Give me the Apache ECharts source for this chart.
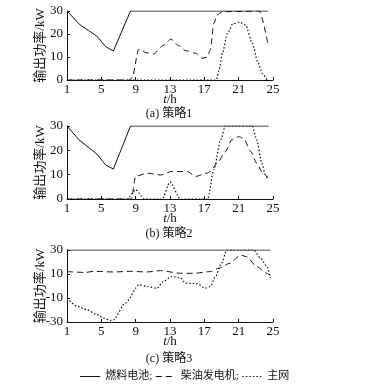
<!DOCTYPE html>
<html><head><meta charset="utf-8">
<script src="https://cdn.jsdelivr.net/npm/echarts@6/dist/echarts.min.js"></script>
<style>html,body{margin:0;padding:0;background:#fff}#c{width:369px;height:386px}</style>
</head><body><div id="c"></div>
<script>
// ---- tick labels / categories ----
var xTicks = [1, 5, 9, 13, 17, 21, 25];
var yTicksAB = [0, 10, 20, 30];
var yTicksC = [-30, -10, 10, 30];
var seriesNames = ['燃料电池', '柴油发电机', '主网'];
var panelTitles = ['(a) 策略1', '(b) 策略2', '(c) 策略3'];

// ---- Panel (a) 策略1 ----
var fcA_t = [1, 2.5, 3.5, 4.5, 5.5, 6.4, 8.4, 24.4];
var fcA_p = [30, 24, 21.5, 19, 14.5, 12.6, 30, 30];
var dgA_t = [1, 8.2, 8.6, 9.35, 10.3, 11.1, 12.2, 13.1, 14.0, 14.8, 16.0, 16.8, 17.3, 17.7, 18.1, 18.5, 19.1, 23.4, 24.4];
var dgA_p = [0, 0, 1, 13.3, 11.8, 11.3, 15, 17.7, 15, 12.8, 11.6, 9.4, 9.9, 13, 24.6, 28.3, 29.7, 30, 15.9];
var grA_t = [1, 18.4, 18.7, 19.1, 19.7, 20.3, 21.1, 21.8, 22.6, 23.2, 23.8, 24.3];
var grA_p = [0, 0, 4, 11.6, 20.3, 24.3, 25.2, 23.9, 15.9, 8, 2.6, 0];

// ---- Panel (b) 策略2 ----
var fcB_t = [1, 2.4, 4.5, 5.5, 6.4, 8.4, 24.5];
var fcB_p = [30, 24.3, 18.4, 14, 12.3, 30, 30];
var dgB_t = [1, 8.5, 9.0, 10.3, 11.9, 13.2, 15.0, 16.0, 17.3, 17.7, 18.5, 19.45, 20.2, 21.0, 21.6, 22.4, 23.1, 23.7, 24.4];
var dgB_p = [0, 0, 9.3, 10.6, 9.9, 11.3, 11.3, 9.3, 10.6, 11.3, 14.7, 19.5, 24.3, 25.6, 24.8, 19.5, 14.7, 11.3, 8.5];
var grB_t = [1, 8.0, 9.0, 10.0, 12.1, 13.0, 14.2, 17.4, 18.1, 18.9, 19.45, 22.6, 23.1, 23.7, 24.1, 24.4];
var grB_p = [0, 0, 3.8, 0, 0, 7, 0, 0, 12, 24.3, 30, 30, 24.3, 14.7, 10, 8];

// ---- Panel (c) 策略3 ----
var fcC_t = [1, 24.7];
var fcC_p = [30, 30];
var dgC_t = [1, 3.1, 4.1, 6.4, 8.4, 10.3, 11.9, 14.2, 15.8, 17.7, 18.7, 20.0, 21.2, 21.9, 23.1, 24.3, 24.6];
var dgC_p = [12, 11.3, 12.2, 11.7, 12.2, 11.7, 12.8, 10.6, 10.6, 12, 14.8, 19, 25.8, 24.5, 16.2, 10.6, 9];
var grC_t = [1, 2.2, 3.3, 4.5, 5.3, 6.05, 6.4, 7.8, 9.4, 10.3, 11.5, 12.2, 13.2, 14.2, 14.8, 16.2, 17.1, 17.7, 18.3, 18.9, 19.65, 22.75, 23.5, 24.3, 24.7];
var grC_p = [-10.1, -17, -19.8, -23.9, -26.7, -28.7, -28.2, -14.2, 1, -0.4, -1.8, 3.7, 7.9, 6.8, 2.4, 2, -1.8, -0.4, 7.9, 17.6, 30, 30, 23.8, 16.3, 6.7];

function pairs(t, p) { return t.map(function (x, i) { return [x, p[i]]; }); }

var FONT = "'Liberation Serif','Noto Sans CJK SC',serif";
var chart = echarts.init(document.getElementById('c'), null, {renderer: 'canvas'});

var grids = [
  {left: 67, width: 206, top: 11, height: 69},
  {left: 67, width: 206, top: 126, height: 73},
  {left: 67, width: 206, top: 250, height: 72}
];
var yRanges = [[0, 30, 10], [0, 30, 10], [-30, 30, 20]];

var xAxes = grids.map(function (g, i) {
  return {
    type: 'value', gridIndex: i, min: xTicks[0], max: xTicks[xTicks.length - 1], interval: 4,
    name: '{i|t}/h', nameLocation: 'middle', nameGap: 13, nameMoveOverlap: false,
    nameTextStyle: {fontFamily: FONT, fontSize: 13, color: '#111', rich: {i: {fontStyle: 'italic', fontFamily: FONT, fontSize: 13, color: '#111'}}},
    axisLine: {onZero: false, lineStyle: {color: '#111', width: 1}},
    axisTick: {inside: true, length: 3, lineStyle: {color: '#111'}},
    axisLabel: {fontFamily: FONT, fontSize: 13, color: '#111', margin: 3},
    splitLine: {show: false}
  };
});
var yAxes = grids.map(function (g, i) {
  return {
    type: 'value', gridIndex: i, min: yRanges[i][0], max: yRanges[i][1], interval: yRanges[i][2],
    name: '输出功率/kW', nameLocation: 'middle', nameGap: 20, nameRotate: 90, nameMoveOverlap: false,
    nameTextStyle: {fontFamily: FONT, fontSize: 13, color: '#111'},
    axisLine: {show: true, onZero: false, lineStyle: {color: '#111', width: 1}},
    axisTick: {show: true, inside: true, length: 3, lineStyle: {color: '#111'}},
    axisLabel: {fontFamily: FONT, fontSize: 13, color: '#111', margin: 4},
    splitLine: {show: false}
  };
});

var styles = [
  {type: 'solid', width: 1, color: '#111'},
  {type: [6, 4], width: 1, color: '#111'},
  {type: [1.5, 2], width: 1.2, color: '#111'}
];
var panelData = [
  [[fcA_t, fcA_p], [dgA_t, dgA_p], [grA_t, grA_p]],
  [[fcB_t, fcB_p], [dgB_t, dgB_p], [grB_t, grB_p]],
  [[fcC_t, fcC_p], [dgC_t, dgC_p], [grC_t, grC_p]]
];
var series = [];
panelData.forEach(function (pd, gi) {
  pd.forEach(function (s, si) {
    series.push({
      type: 'line', name: seriesNames[si], xAxisIndex: gi, yAxisIndex: gi,
      data: pairs(s[0], s[1]), symbol: 'none', showSymbol: false,
      smooth: si === 0 ? false : 0.25, smoothMonotone: 'x',
      lineStyle: styles[si], itemStyle: {color: '#111'},
      animation: false, silent: true
    });
  });
});

var titleY = [114, 234, 359];
var graphics = panelTitles.map(function (t, i) {
  return {type: 'text', x: 169, y: titleY[i],
    style: {text: t, font: '12px ' + FONT, fill: '#111', align: 'center', verticalAlign: 'middle'}};
});

chart.setOption({
  animation: false,
  grid: grids,
  xAxis: xAxes,
  yAxis: yAxes,
  series: series,
  legend: {
    data: seriesNames, left: 'center', top: 366, itemWidth: 20, itemHeight: 8, itemGap: 3,
    itemStyle: {opacity: 0},
    lineStyle: {width: 1},
    textStyle: {fontFamily: FONT, fontSize: 11, color: '#111'},
    formatter: function (n) { return n === '主网' ? n : n + ';'; }
  },
  graphic: graphics
});
</script></body></html>
